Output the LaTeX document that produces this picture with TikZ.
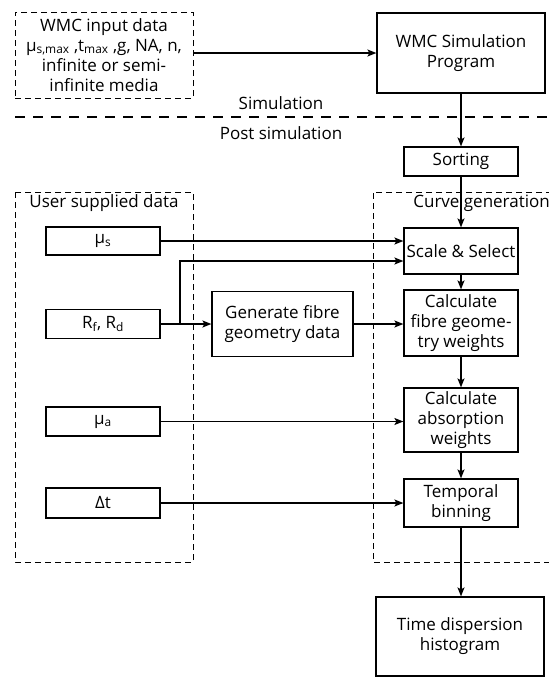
\documentclass[tikz,border=0pt]{standalone}
\usepackage{fontspec}
\setmainfont{Open Sans}
\usetikzlibrary{arrows.meta}
\tikzset{
  txt/.style={font=\fontsize{17}{20}\selectfont, align=center, inner sep=0pt},
  box/.style={txt, draw, line width=1.2pt},
  dbox/.style={txt, draw, line width=1pt, dash pattern=on 6pt off 4pt},
  sep/.style={line width=1.1pt, dash pattern=on 10pt off 8pt},
  frame/.style={line width=1pt, dash pattern=on 6pt off 4pt},
  arr/.style={line width=1.2pt, -{Stealth[length=9pt,width=7pt,inset=2pt]}},
  ln/.style={line width=1.2pt},
}
\begin{document}
\begin{tikzpicture}[x=1pt,y=-1pt]
\useasboundingbox (0,0) rectangle (549,678);

% simulation stage
\node[dbox, minimum width=178pt, minimum height=86pt] (input) at (104,55)
  {WMC input data\\ μ\textsubscript{s,max} ,t\textsubscript{max} ,g, NA, n,\\ infinite or semi-\\ infinite media};
\node[box, minimum width=168pt, minimum height=80pt] (wmc) at (461,53) {WMC Simulation\\ Program};

\node[txt] (simlab) at (281,103) {Simulation};
\draw[sep] (15,117) -- (549,117);
\node[txt] (postlab) at (281,133) {Post simulation};

\node[box, minimum width=114pt, minimum height=29pt] (sort) at (461,161.5) {Sorting};

% dashed group frames
\draw[frame] (15,192) rectangle (193,562);
\node[txt] (userlab) at (104,203) {User supplied data};
\draw[frame] (552,192) -- (373,192) -- (373,562) -- (552,562);
\node[txt, anchor=east] (curvelab) at (550,203) {Curve generation};

% user supplied data
\node[box, minimum width=114pt, minimum height=28pt] (mus) at (103,241) {μ\textsubscript{s}};
\node[box, minimum width=114pt, minimum height=29pt] (rfd) at (103,324) {R\textsubscript{f}, R\textsubscript{d}};
\node[box, minimum width=114pt, minimum height=29pt] (mua) at (103,421.5) {μ\textsubscript{a}};
\node[box, minimum width=114pt, minimum height=30pt] (dt) at (103,503) {Δt};

\node[box, minimum width=141pt, minimum height=65pt] (gen) at (282.5,324) {Generate fibre\\ geometry data};

% curve generation
\node[box, minimum width=114pt, minimum height=46pt] (scale) at (461,251) {Scale \& Select};
\node[box, minimum width=114pt, minimum height=66pt] (fib) at (461,323) {Calculate\\ fibre geome-\\ try weights};
\node[box, minimum width=114pt, minimum height=64pt] (abs) at (461,420) {Calculate\\ absorption\\ weights};
\node[box, minimum width=114pt, minimum height=48pt] (temp) at (461,503) {Temporal\\ binning};
\node[box, minimum width=168pt, minimum height=79pt] (hist) at (460,636.5) {Time dispersion\\ histogram};

% connectors
\draw[arr] (input.east |- wmc.west) -- (wmc.west);
\draw[arr] (wmc.south) -- (sort.north);
\draw[arr] (sort.south) -- (scale.north);
\draw[arr] (mus.east) -- (mus.east -| scale.west);
\coordinate (branch) at (180,324);
\coordinate (bend) at (180,261);
\draw[ln] (rfd.east) -- (branch);
\draw[arr] (branch) -- (gen.west);
\draw[arr] (branch) -- (bend) -- (bend -| scale.west);
\draw[arr] (gen.east) -- (gen.east -| fib.west);
\draw[arr] (scale.south) -- (fib.north);
\draw[arr] (fib.south) -- (abs.north);
\draw[arr] (mua.east) -- (mua.east -| abs.west);
\draw[arr] (abs.south) -- (temp.north);
\draw[arr] (dt.east) -- (dt.east -| temp.west);
\draw[arr] (temp.south) -- (temp.south |- hist.north);
\end{tikzpicture}
\end{document}
